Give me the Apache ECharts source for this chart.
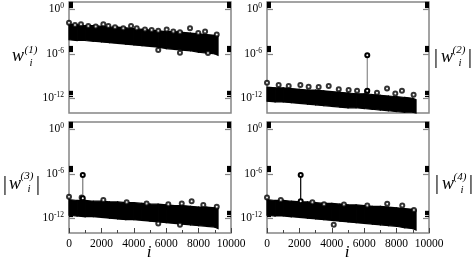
<!DOCTYPE html>
<html><head><meta charset="utf-8">
<script src="https://cdn.jsdelivr.net/npm/echarts@6/dist/echarts.min.js"></script>
<style>html,body{margin:0;padding:0;background:#fff}#c{width:474px;height:263px}</style>
</head><body><div id="c"></div>
<script>
// ---- data (exponents = log10 of |w_i|) ----
const xTicks = [0, 2000, 4000, 6000, 8000, 10000];
const yTickExps = [-12, -6, 0];
const idx = [0,500,1000,1500,2000,2500,3000,3500,4000,4500,5000,5500,6000,6500,7000,7500,8000,8500,9000,9200];

const upper1 = [-2.0,-2.1,-2.2,-2.2,-2.3,-2.4,-2.4,-2.5,-2.6,-2.7,-2.8,-2.9,-3.0,-3.0,-3.1,-3.2,-3.3,-3.4,-3.5,-3.6];
const lower1 = [-4.1,-4.2,-4.2,-4.3,-4.4,-4.5,-4.6,-4.7,-4.8,-4.9,-5.0,-5.1,-5.3,-5.4,-5.5,-5.6,-5.8,-5.9,-6.0,-6.2];
const upper2 = [-10.5,-10.6,-10.6,-10.7,-10.8,-10.9,-10.9,-11.0,-11.1,-11.2,-11.3,-11.4,-11.4,-11.5,-11.6,-11.7,-11.8,-11.9,-12.0,-12.2];
const lower2 = [-12.4,-12.5,-12.5,-12.6,-12.7,-12.8,-12.9,-13.0,-13.1,-13.2,-13.3,-13.3,-13.4,-13.5,-13.6,-13.7,-13.8,-13.9,-13.9,-14.0];
const upper3 = [-9.5,-9.6,-9.6,-9.7,-9.7,-9.8,-9.8,-9.9,-9.9,-10.0,-10.1,-10.1,-10.2,-10.3,-10.3,-10.4,-10.5,-10.5,-10.6,-10.7];
const lower3 = [-11.6,-11.7,-11.8,-11.8,-11.9,-12.0,-12.1,-12.2,-12.2,-12.3,-12.4,-12.5,-12.6,-12.7,-12.8,-12.9,-13.0,-13.1,-13.2,-13.4];
const upper4 = [-9.5,-9.6,-9.6,-9.7,-9.8,-9.8,-9.9,-10.0,-10.0,-10.1,-10.2,-10.2,-10.3,-10.4,-10.4,-10.5,-10.6,-10.7,-10.8,-10.9];
const lower4 = [-11.6,-11.7,-11.7,-11.8,-11.9,-12.0,-12.1,-12.2,-12.3,-12.4,-12.5,-12.6,-12.7,-12.8,-12.9,-13.0,-13.1,-13.3,-13.4,-13.6];

const peaks1 = [[0,-1.8],[370,-2.1],[740,-2.0],[1190,-2.25],[1650,-2.3],[2120,-2.0],[2430,-2.25],[2840,-2.4],[3350,-2.55],[3830,-2.25],[4180,-2.55],[4690,-2.7],[5100,-2.8],[5510,-2.9],[6030,-2.7],[6440,-3.0],[6850,-3.1],[7470,-2.55],[7980,-3.2],[8400,-3.0],[9120,-3.4],[5510,-5.5],[6850,-5.85],[8580,-5.9]];
const peaks2 = [[0,-9.9],[720,-10.2],[1340,-10.35],[2060,-10.2],[2570,-10.45],[3190,-10.5],[3810,-10.35],[4430,-10.8],[5040,-10.9],[5560,-11.0],[6170,-11.1],[6790,-11.25],[7410,-10.7],[7920,-11.35],[8330,-11.0],[9050,-11.55]];
const peaks3 = [[0,-9.1],[780,-9.2],[2120,-9.55],[3560,-9.85],[4790,-10.0],[6130,-10.1],[6960,-10.0],[7570,-9.7],[8290,-10.2],[9120,-10.45],[5510,-12.7],[6850,-12.9]];
const peaks4 = [[0,-9.2],[850,-9.55],[2800,-9.85],[3520,-10.1],[4750,-10.15],[6190,-10.3],[7420,-10.05],[8350,-10.3],[9070,-10.9],[4120,-12.9]];

// outliers: [index, base exponent, peak exponent]
const spike2 = [6190, -11.0, -6.2];
const spike3 = [850, -9.3, -6.15];
const spike4 = [2080, -9.7, -6.15];

// ---- chart ----
const OFF = 14;          // shift so axis values are positive (value = exponent + OFF)
const FONT = '"Liberation Serif", "Times New Roman", serif';
const FRAME = '#858585';
const MARK = '#000';

const panels = [
  {u: upper1, l: lower1, p: peaks1, s: null, sc: FRAME},
  {u: upper2, l: lower2, p: peaks2, s: spike2, sc: '#8a8a8a'},
  {u: upper3, l: lower3, p: peaks3, s: spike3, sc: '#777'},
  {u: upper4, l: lower4, p: peaks4, s: spike4, sc: '#000'}
];
const gridPos = [
  {left: 69, top: 2}, {left: 267, top: 2}, {left: 69, top: 122}, {left: 267, top: 122}
];
const majorVals = yTickExps.map(e => e + OFF);
const minorVals = [];
yTickExps.forEach(e => { for (let k = 2; k <= 9; k++) minorVals.push(e + OFF + Math.log10(k)); });

const grids = [], xAxes = [], yAxes = [], series = [];
gridPos.forEach((g, gi) => {
  grids.push({left: g.left, top: g.top, width: 162, height: 111, show: true,
    borderColor: FRAME, borderWidth: 1.5, backgroundColor: 'transparent'});
  const bottomRow = gi >= 2;
  xAxes.push({gridIndex: gi, type: 'value', min: 0, max: 10000, interval: 2000,
    axisLine: {show: false}, splitLine: {show: false},
    axisTick: {show: bottomRow, inside: true, length: 5, lineStyle: {color: '#444', width: 1}},
    minorTick: {show: bottomRow, splitNumber: 2, length: 3, lineStyle: {color: '#444', width: 1}},
    axisLabel: {show: bottomRow, color: '#000', fontFamily: FONT, fontSize: 11.5, margin: 5,
      customValues: xTicks, formatter: v => String(v)}
  });
  const base = yAxes.length;
  const common = {gridIndex: gi, type: 'value', min: 0, max: 15, splitLine: {show: false}, axisLine: {show: false}};
  yAxes.push(Object.assign({}, common, {position: 'left',
    axisTick: {show: true, inside: true, length: 6, customValues: majorVals, lineStyle: {color: FRAME, width: 1.2}},
    axisLabel: {show: true, customValues: majorVals, margin: 5,
      formatter: v => '{b|10}{s|' + Math.round(v - OFF) + '}',
      rich: {b: {fontFamily: FONT, fontSize: 11.5, color: '#000', lineHeight: 14},
             s: {fontFamily: FONT, fontSize: 7.5, color: '#000', verticalAlign: 'top', lineHeight: 8}}}
  }));
  yAxes.push(Object.assign({}, common, {position: 'right',
    axisTick: {show: true, inside: true, length: 6, customValues: majorVals, lineStyle: {color: FRAME, width: 1.2}},
    axisLabel: {show: false}}));
  yAxes.push(Object.assign({}, common, {position: 'left',
    axisTick: {show: true, inside: true, length: 4, customValues: minorVals, lineStyle: {color: '#000', width: 1.2}},
    axisLabel: {show: false}}));
  yAxes.push(Object.assign({}, common, {position: 'right',
    axisTick: {show: true, inside: true, length: 4, customValues: minorVals, lineStyle: {color: '#000', width: 1.2}},
    axisLabel: {show: false}}));

  const P = panels[gi];
  const n = idx.length;
  series.push({type: 'custom', xAxisIndex: gi, yAxisIndex: base, silent: true, z: 3,
    data: idx.map((x, k) => [x, P.u[k] + OFF, P.l[k] + OFF]),
    renderItem: function (params, api) {
      const k = params.dataIndex;
      if (k >= n - 1) return null;
      const a = api.coord([idx[k], P.u[k] + OFF]);
      const b = api.coord([idx[k + 1], P.u[k + 1] + OFF]);
      const c = api.coord([idx[k + 1], P.l[k + 1] + OFF]);
      const d = api.coord([idx[k], P.l[k] + OFF]);
      return {type: 'polygon', shape: {points: [a, b, c, d]},
        style: {fill: '#000', stroke: '#000', lineWidth: 1.2}};
    }});
  if (P.s) {
    series.push({type: 'line', xAxisIndex: gi, yAxisIndex: base,
      data: [[P.s[0], P.s[1] + OFF], [P.s[0], P.s[2] + OFF]],
      lineStyle: {color: P.sc, width: 1.2}, showSymbol: true,
      symbol: 'emptyCircle', symbolSize: 4,
      itemStyle: {color: MARK, borderWidth: 0.9}, z: 5, silent: true});
  }
  series.push({type: 'scatter', xAxisIndex: gi, yAxisIndex: base,
    data: P.p.map(d => [d[0], d[1] + OFF]), symbol: 'emptyCircle', symbolSize: 4,
    itemStyle: {color: MARK, borderWidth: 0.9}, z: 4, silent: true});
});

function txt(x, y, text, size, italic, align) {
  return {type: 'text', x: x, y: y, silent: true,
    style: {text: text, fill: '#000', font: (italic ? 'italic ' : '') + size + 'px "Liberation Serif"',
      align: align || 'center', verticalAlign: 'middle'}};
}
const graphics = [
  txt(18, 56, 'w', 18, true), txt(31, 50, '(1)', 11, true), txt(31, 63, 'i', 11, true),
  txt(436, 57, '|', 22, false), txt(447, 57, 'w', 18, true), txt(459, 50, '(2)', 11, true), txt(460, 63, 'i', 11, true), txt(470, 57, '|', 22, false),
  txt(5, 184, '|', 22, false), txt(15, 184, 'w', 18, true), txt(27, 176, '(3)', 11, true), txt(29, 189, 'i', 11, true), txt(38, 184, '|', 22, false),
  txt(437, 183, '|', 22, false), txt(448, 184, 'w', 18, true), txt(460, 177, '(4)', 11, true), txt(462, 190, 'i', 11, true), txt(471, 183, '|', 22, false),
  txt(149, 253, 'i', 17, true), txt(347, 253, 'i', 17, true)
];

const chart = echarts.init(document.getElementById('c'), null, {renderer: 'canvas'});
chart.setOption({animation: false, backgroundColor: '#fff', grid: grids, xAxis: xAxes, yAxis: yAxes,
  series: series, graphic: graphics});
</script></body></html>
